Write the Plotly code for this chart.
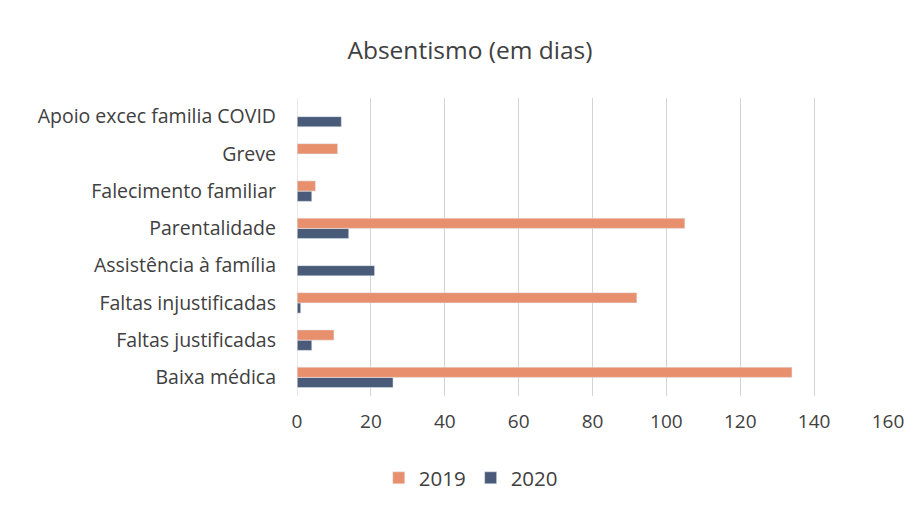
import plotly.graph_objects as go

categories = ["Baixa médica", "Faltas justificadas", "Faltas injustificadas",
              "Assistência à família", "Parentalidade", "Falecimento familiar",
              "Greve", "Apoio excec familia COVID"]
values_2019 = [134, 10, 92, 0, 105, 5, 11, 0]
values_2020 = [26, 4, 1, 21, 14, 4, 0, 12]
x_ticks = [0, 20, 40, 60, 80, 100, 120, 140, 160]

font_family = "Open Sans, Noto Sans, sans-serif"

fig = go.Figure()
fig.add_trace(go.Bar(y=categories, x=values_2020, name="2020", orientation="h",
                     marker_color="#4a5b7a", legendrank=2))
fig.add_trace(go.Bar(y=categories, x=values_2019, name="2019", orientation="h",
                     marker_color="#e8906e", legendrank=1))

fig.update_layout(
    width=913, height=500,
    margin=dict(l=289, r=33, t=90, b=112, autoexpand=False),
    paper_bgcolor="white", plot_bgcolor="white",
    barmode="group", bargap=0.45, bargroupgap=0,
    title=dict(text="Absentismo (em dias)", x=0.506, xanchor="center", y=0.916, yanchor="middle",
               font=dict(family=font_family, size=24.5, color="#404040")),
    font=dict(family=font_family, size=19.5, color="#404040"),
    legend=dict(orientation="h", x=0.294, xanchor="center", y=-0.275, yanchor="middle",
                font=dict(size=20.5), itemwidth=30, tracegroupgap=0),
    xaxis=dict(range=[0, 160], tickvals=x_ticks, showgrid=True, gridcolor="#d4d4d4",
               gridwidth=1, zeroline=False, ticks="", showline=False, automargin=False,
               ticklabelstandoff=12, tickfont=dict(size=19)),
    yaxis=dict(type="category", categoryorder="array", categoryarray=categories,
               showgrid=False, zeroline=False, ticks="", automargin=False,
               ticklabelstandoff=20, showline=False, tickfont=dict(size=19.5)),
)
fig.add_shape(type="line", xref="x", yref="paper", x0=0, x1=0, y0=0, y1=1,
              line=dict(color="#d4d4d4", width=1))

fig.write_html("out.html")
